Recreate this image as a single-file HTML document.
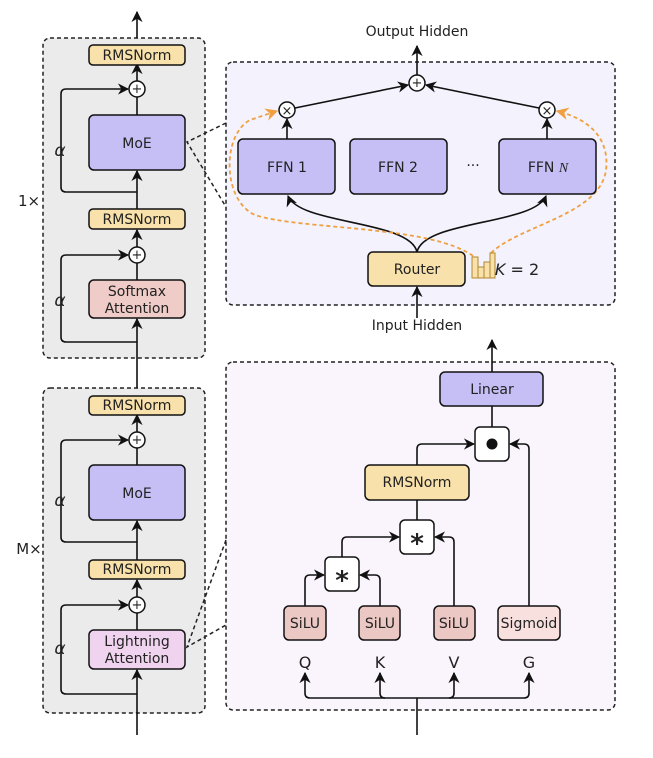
<!DOCTYPE html>
<html><head><style>
html,body{margin:0;padding:0;background:#fff;}
svg{display:block;}
text{font-family:"DejaVu Sans","Liberation Sans",sans-serif;fill:#222;}
</style></head><body>
<svg width="653" height="758" viewBox="0 0 653 758" xmlns="http://www.w3.org/2000/svg">
<defs>
<marker id="a" viewBox="0 0 10 10" refX="9" refY="5" markerWidth="7" markerHeight="7" orient="auto"><path d="M0,0 L10,5 L0,10 L3,5z" fill="#111"/></marker>
<marker id="o" viewBox="0 0 10 10" refX="9" refY="5" markerWidth="7" markerHeight="7" orient="auto"><path d="M0,0 L10,5 L0,10 L3,5z" fill="#f0a040"/></marker>
</defs>
<g stroke="#222" stroke-width="1.5" stroke-dasharray="4,3" fill="none">
<rect x="43" y="38" width="162" height="320" rx="7" fill="#ebebeb"/>
<rect x="43" y="388" width="162" height="325" rx="7" fill="#ebebeb"/>
<rect x="226" y="62" width="389" height="243" rx="7" fill="#f3f2fd"/>
<rect x="226" y="362" width="389" height="348" rx="7" fill="#faf5fc"/>
<path d="M226,123 L187,142 L226,207"/>
<path d="M226,540 L187,647 L226,625"/>
</g>
<!-- left panel 1 -->
<g stroke="#111" stroke-width="1.6" fill="none">
<line x1="137" y1="38" x2="137" y2="12" marker-end="url(#a)"/>
<line x1="137" y1="81" x2="137" y2="64" marker-end="url(#a)"/>
<line x1="137" y1="115" x2="137" y2="97"/>
<line x1="137" y1="209" x2="137" y2="171" marker-end="url(#a)"/>
<path d="M137,192 H66 Q61,192 61,187 V94 Q61,89 66,89 H128" marker-end="url(#a)"/>
<line x1="137" y1="247" x2="137" y2="230" marker-end="url(#a)"/>
<line x1="137" y1="280" x2="137" y2="263"/>
<line x1="137" y1="388" x2="137" y2="319" marker-end="url(#a)"/>
<path d="M137,342 H66 Q61,342 61,337 V260 Q61,255 66,255 H128" marker-end="url(#a)"/>
<line x1="137" y1="432" x2="137" y2="415" marker-end="url(#a)"/>
<line x1="137" y1="465" x2="137" y2="448"/>
<line x1="137" y1="560" x2="137" y2="521" marker-end="url(#a)"/>
<path d="M137,542 H66 Q61,542 61,537 V445 Q61,440 66,440 H128" marker-end="url(#a)"/>
<line x1="137" y1="597" x2="137" y2="580" marker-end="url(#a)"/>
<line x1="137" y1="630" x2="137" y2="613"/>
<line x1="137" y1="735" x2="137" y2="670" marker-end="url(#a)"/>
<path d="M137,694 H66 Q61,694 61,689 V610 Q61,605 66,605 H128" marker-end="url(#a)"/>
</g>
<g stroke="#111" stroke-width="1.5">
<rect x="89" y="45" width="96" height="20" rx="4" fill="#f8e1aa"/>
<rect x="89" y="115" width="96" height="55" rx="5" fill="#c5bff5"/>
<rect x="89" y="209" width="96" height="20" rx="4" fill="#f8e1aa"/>
<rect x="89" y="280" width="96" height="38" rx="5" fill="#f0ccc8"/>
<rect x="89" y="396" width="96" height="19" rx="4" fill="#f8e1aa"/>
<rect x="89" y="465" width="96" height="55" rx="5" fill="#c5bff5"/>
<rect x="89" y="560" width="96" height="19" rx="4" fill="#f8e1aa"/>
<rect x="89" y="630" width="96" height="39" rx="5" fill="#f0d4ef"/>
<circle cx="137" cy="89" r="8" fill="#fff"/><circle cx="137" cy="255" r="8" fill="#fff"/>
<circle cx="137" cy="440" r="8" fill="#fff"/><circle cx="137" cy="605" r="8" fill="#fff"/>
</g>
<g font-size="14" text-anchor="middle">
<text x="137" y="93" font-size="13">+</text><text x="137" y="259" font-size="13">+</text><text x="137" y="444" font-size="13">+</text><text x="137" y="609" font-size="13">+</text>
<text x="137" y="60">RMSNorm</text><text x="137" y="148">MoE</text><text x="137" y="224">RMSNorm</text>
<text x="137" y="296">Softmax</text><text x="137" y="313">Attention</text>
<text x="137" y="410">RMSNorm</text><text x="137" y="498">MoE</text><text x="137" y="574">RMSNorm</text>
<text x="137" y="646">Lightning</text><text x="137" y="663">Attention</text>
<text x="60" y="156" font-size="17" font-style="italic" font-family="Liberation Serif">α</text>
<text x="60" y="306" font-size="17" font-style="italic" font-family="Liberation Serif">α</text>
<text x="60" y="506" font-size="17" font-style="italic" font-family="Liberation Serif">α</text>
<text x="60" y="654" font-size="17" font-style="italic" font-family="Liberation Serif">α</text>
<text x="29" y="206" font-size="15">1×</text><text x="29" y="554" font-size="15">M×</text>
</g>
<!-- MoE panel -->
<g stroke="#111" stroke-width="1.6" fill="none">
<line x1="417" y1="75" x2="417" y2="46" marker-end="url(#a)"/>
<line x1="295" y1="108" x2="408" y2="85" marker-end="url(#a)"/>
<line x1="539" y1="108" x2="426" y2="85" marker-end="url(#a)"/>
<line x1="287" y1="139" x2="287" y2="119" marker-end="url(#a)"/>
<line x1="547" y1="139" x2="547" y2="119" marker-end="url(#a)"/>
<line x1="417" y1="318" x2="417" y2="287" marker-end="url(#a)"/>
<path d="M417,252 C410,220 300,225 288,196" marker-end="url(#a)"/>
<path d="M417,252 C424,220 534,225 546,196" marker-end="url(#a)"/>
</g>
<g stroke="#f0a040" stroke-width="1.8" stroke-dasharray="4,3" fill="none">
<path d="M473,256 C430,225 300,230 255,215 C222,200 222,135 250,120 L277,111" marker-end="url(#o)"/>
<path d="M491,253 C520,225 600,215 606,170 C610,135 585,118 557,111" marker-end="url(#o)"/>
</g>
<g stroke="#111" stroke-width="1.5">
<rect x="238" y="139" width="97" height="55" rx="5" fill="#c5bff5"/>
<rect x="350" y="139" width="97" height="55" rx="5" fill="#c5bff5"/>
<rect x="499" y="139" width="97" height="55" rx="5" fill="#c5bff5"/>
<rect x="368" y="252" width="97" height="34" rx="5" fill="#f8e1aa"/>
<circle cx="417" cy="83" r="8" fill="#fff"/>
<circle cx="287" cy="110" r="8" fill="#fff"/><circle cx="547" cy="110" r="8" fill="#fff"/>
</g>
<g stroke="#b08830" stroke-width="1" fill="#f8e1aa">
<rect x="472" y="257" width="6" height="21"/><rect x="478" y="267" width="6" height="11"/>
<rect x="484" y="262" width="6" height="16"/><rect x="490" y="253" width="5" height="25"/>
</g>
<g font-size="14" text-anchor="middle">
<text x="417" y="87" font-size="13">+</text><text x="287" y="115" font-size="13">×</text><text x="547" y="115" font-size="13">×</text>
<text x="417" y="36">Output Hidden</text><text x="417" y="330">Input Hidden</text>
<text x="287" y="172">FFN 1</text><text x="398" y="172">FFN 2</text><text x="548" y="172">FFN <tspan font-style="italic" font-family="Liberation Serif">N</tspan></text>
<text x="473" y="170">···</text><text x="417" y="274">Router</text>
<text x="517" y="275" font-size="16" font-family="Liberation Serif"><tspan font-style="italic">K</tspan> = 2</text>
</g>
<!-- lightning panel -->
<g stroke="#111" stroke-width="1.6" fill="none">
<line x1="492" y1="372" x2="492" y2="340" marker-end="url(#a)"/>
<line x1="492" y1="427" x2="492" y2="406"/>
<line x1="417" y1="520" x2="417" y2="500"/>
<path d="M417,465 V449 Q417,444 422,444 H474" marker-end="url(#a)"/>
<path d="M529,606 V449 Q529,444 524,444 H510" marker-end="url(#a)"/>
<path d="M342,557 V542 Q342,537 347,537 H399" marker-end="url(#a)"/>
<path d="M454,606 V542 Q454,537 449,537 H435" marker-end="url(#a)"/>
<path d="M305,606 V580 Q305,575 310,575 H324" marker-end="url(#a)"/>
<path d="M380,606 V580 Q380,575 375,575 H360" marker-end="url(#a)"/>
<line x1="417" y1="735" x2="417" y2="698"/>
<path d="M310,698 H524"/>
<path d="M310,698 Q305,698 305,693 V673" marker-end="url(#a)"/>
<path d="M385,698 Q380,698 380,693 V673" marker-end="url(#a)"/>
<path d="M449,698 Q454,698 454,693 V673" marker-end="url(#a)"/>
<path d="M524,698 Q529,698 529,693 V673" marker-end="url(#a)"/>
</g>
<g stroke="#111" stroke-width="1.5">
<rect x="440" y="372" width="103" height="34" rx="5" fill="#c5bff5"/>
<rect x="475" y="427" width="34" height="34" rx="5" fill="#fff"/>
<rect x="365" y="465" width="104" height="35" rx="5" fill="#f8e1aa"/>
<rect x="400" y="520" width="34" height="34" rx="5" fill="#fff"/>
<rect x="325" y="557" width="34" height="34" rx="5" fill="#fff"/>
<rect x="284" y="606" width="42" height="34" rx="5" fill="#ecc8c4"/>
<rect x="359" y="606" width="41" height="34" rx="5" fill="#ecc8c4"/>
<rect x="434" y="606" width="41" height="34" rx="5" fill="#ecc8c4"/>
<rect x="498" y="606" width="62" height="34" rx="5" fill="#f8e0de"/>
</g>
<circle cx="492" cy="444" r="5.5" fill="#111"/>
<g font-size="14" text-anchor="middle">
<text x="492" y="394">Linear</text><text x="417" y="487">RMSNorm</text>
<text x="417" y="552" font-size="26" font-weight="bold">*</text><text x="342" y="589" font-size="26" font-weight="bold">*</text>
<text x="305" y="628">SiLU</text><text x="380" y="628">SiLU</text><text x="454" y="628">SiLU</text><text x="529" y="628">Sigmoid</text>
<text x="305" y="668" font-size="16">Q</text><text x="380" y="668" font-size="16">K</text><text x="454" y="668" font-size="16">V</text><text x="529" y="668" font-size="16">G</text>
</g>
</svg>
</body></html>
